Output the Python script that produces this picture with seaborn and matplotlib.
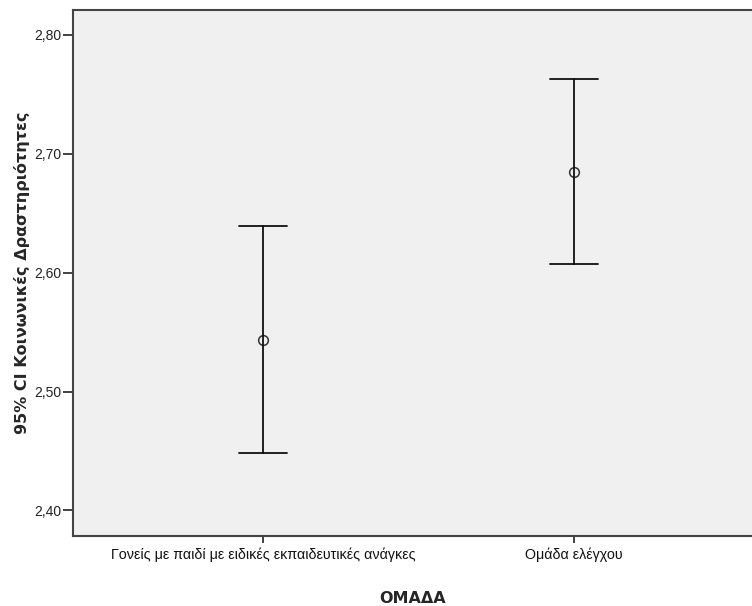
import numpy as np
import pandas as pd
import matplotlib
matplotlib.use("Agg")
import matplotlib.pyplot as plt
import seaborn as sns
from matplotlib.ticker import FuncFormatter, FixedLocator

groups = ["Γονείς με παιδί με ειδικές εκπαιδευτικές ανάγκες", "Ομάδα ελέγχου"]
means = [2.543, 2.685]
ci_low = [2.448, 2.607]
ci_high = [2.639, 2.763]
yticks = [2.40, 2.50, 2.60, 2.70, 2.80]

rows = []
for g, lo, m, hi in zip(groups, ci_low, means, ci_high):
    for v in (lo, m, hi):
        rows.append({"ΟΜΑΔΑ": g, "value": v})
df = pd.DataFrame(rows)

sns.set_style("white")
plt.rcParams["font.family"] = ["Liberation Sans", "DejaVu Sans"]

fig = plt.figure(figsize=(7.52, 6.06), dpi=100)
ax = fig.add_axes([72.7 / 752, 70 / 606, 1 - 72.7 / 752, 526 / 606])
ax.set_facecolor("#F0F0F0")

sns.pointplot(data=df, x="ΟΜΑΔΑ", y="value", estimator=np.median,
              errorbar=lambda x: (x.min(), x.max()), order=groups,
              linestyle="none", marker="o", markersize=7,
              markerfacecolor="none", markeredgecolor="#333333",
              markeredgewidth=1.1, color="#111111", capsize=0.155,
              err_kws={"linewidth": 1.3, "color": "#111111"}, ax=ax)

for ln in ax.lines:
    y = np.asarray(ln.get_ydata(), dtype=float)
    if len(y) == 2 and y[0] == y[1]:
        ln.set_linewidth(2.2)

ax.set_xlim(-0.612, 1.572)
ax.set_ylim(2.3785, 2.821)
ax.yaxis.set_major_locator(FixedLocator(yticks))
ax.yaxis.set_major_formatter(FuncFormatter(lambda v, p: f"{v:.2f}".replace(".", ",")))

for s in ["left", "bottom", "top"]:
    ax.spines[s].set_visible(True)
    ax.spines[s].set_color("#444444")
    ax.spines[s].set_linewidth(1.5)
ax.spines["right"].set_visible(False)

ax.tick_params(axis="y", which="major", direction="out", length=7, width=1.3,
               color="#333333", labelsize=10, labelcolor="#222222", pad=1, left=True)
ax.tick_params(axis="x", which="major", direction="out", length=5, width=1.3,
               color="#333333", labelsize=10.3, labelcolor="#111111", pad=3, bottom=True)

ax.set_xlabel("ΟΜΑΔΑ", fontsize=11.5, fontweight="bold", family="DejaVu Sans")
ax.set_ylabel("95% CI Κοινωνικές Δραστηριότητες", fontsize=11.5, fontweight="bold",
              family="DejaVu Sans")
ax.xaxis.set_label_coords(0.5, -0.104)
ax.yaxis.set_label_coords(-0.063, 0.5)

fig.savefig("out.png", dpi=100, facecolor="white")
